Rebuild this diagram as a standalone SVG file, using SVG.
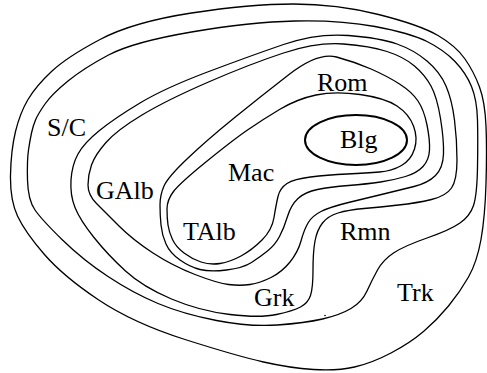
<svg xmlns="http://www.w3.org/2000/svg" width="487" height="373" viewBox="0 0 487 373">
<style>
.c{fill:none;stroke:#000;stroke-width:1.3}
.e{fill:none;stroke:#000;stroke-width:2}
text{font-family:"Liberation Serif","Times New Roman",serif;font-size:26px;fill:#000}
</style>
<rect width="487" height="373" fill="#fff"/>
<g id="connectors">
<path id="k1" class="c" d="M10.5,175 Q11,150 15.5,131.5 Q20,113 28,99.5 Q36,86 51.5,71.5 Q67,57 100,39.5 Q133,22 191.5,13 Q250,4 293.5,4 Q337,4 378.5,14.5 Q420,25 438,35.5 Q456,46 465,59 Q474,72 479.5,87 Q485,102 486,126 Q487,150 486,183.5 Q485,217 481,239.5 Q477,262 468.5,277 Q460,292 448.5,306 Q437,320 423.5,331.5 Q410,343 391,353 Q372,363 354.5,367 Q337,371 313.5,369.5 Q290,368 263.5,362 Q237,356 185,339.5 Q133,323 98,299.5 Q63,276 44,254 Q25,232 17.5,216 Q10,200 10.5,175 Z"/>
<path id="k2" class="c" d="M27.5,180 Q27,160 28.5,150 Q30,140 31.5,133 Q33,126 35.5,120 Q38,114 45,104 Q52,94 68,81 Q84,68 108.5,55 Q133,42 191.5,32 Q250,22 295,21 Q340,20 375,26.5 Q410,33 427,41.5 Q444,50 455,61.5 Q466,73 471.5,86.5 Q477,100 477.5,120 Q478,140 477.5,167.5 Q477,195 473.5,205.5 Q470,216 460,223 Q450,230 427,238 Q404,246 393.5,253 Q383,260 377.5,270 Q372,280 367,291 Q362,302 351,308.5 Q340,315 322.5,319 Q305,323 277.5,325 Q250,327 216.5,320.5 Q183,314 158,303.5 Q133,293 108,276.5 Q83,260 62.5,240 Q42,220 35,210 Q28,200 27.5,180 Z"/>
<path id="k3" class="c" d="M71,180 Q72,165 78,154 Q84,143 99.5,130.5 Q115,118 140,103 Q165,88 207.5,72 Q250,56 283.5,44.5 Q317,33 348.5,35.5 Q380,38 397,44 Q414,50 427,61 Q440,72 446,86 Q452,100 454.5,120 Q457,140 457,160 Q457,180 451.5,188 Q446,196 431.5,199.5 Q417,203 398.5,205 Q380,207 364,208.5 Q348,210 338,213 Q328,216 322.5,223 Q317,230 315,241 Q313,252 313,270 Q313,288 310.5,295.5 Q308,303 300.5,307 Q293,311 276.5,314.5 Q260,318 230,314.5 Q200,311 171.5,299 Q143,287 125.5,271 Q108,255 94,237.5 Q80,220 75,207.5 Q70,195 71,180 Z"/>
<path id="k4" class="c" d="M88,185 Q88,175 91.5,165 Q95,155 106,142.5 Q117,130 142,115 Q167,100 208.5,82 Q250,64 283.5,53 Q317,42 343.5,44 Q370,46 387,51.5 Q404,57 414.5,66 Q425,75 431,86 Q437,97 440.5,118.5 Q444,140 443.5,154 Q443,168 435.5,175.5 Q428,183 414,186.5 Q400,190 383.5,194 Q367,198 348.5,202.5 Q330,207 321,211.5 Q312,216 308,223 Q304,230 301,241 Q298,252 290,262 Q282,272 271,277.5 Q260,283 250,284.5 Q240,286 228.5,284.5 Q217,283 195,274.5 Q173,266 153,253 Q133,240 119,226 Q105,212 96.5,203.5 Q88,195 88,185 Z"/>
<path id="k5" class="c" d="M160,205 Q160,195 164,186 Q168,177 187.5,158.5 Q207,140 233.5,118.5 Q260,97 289,74.5 Q318,52 336.5,57 Q355,62 371,69 Q387,76 399.5,84 Q412,92 418,101 Q424,110 427,125 Q430,140 429.5,150 Q429,160 423,166.5 Q417,173 405.5,176.5 Q394,180 380.5,182 Q367,184 348.5,185.5 Q330,187 317.5,189.5 Q305,192 298,198.5 Q291,205 287.5,216.5 Q284,228 279.5,236.5 Q275,245 267.5,251 Q260,257 251.5,262.5 Q243,268 226.5,270 Q210,272 200,269.5 Q190,267 180,260 Q170,253 166,244 Q162,235 161,225 Q160,215 160,205 Z"/>
<path id="k6" class="c" d="M167,209 Q167,200 173.5,191.5 Q180,183 206.5,161.5 Q233,140 247.5,130 Q262,120 279.5,109.5 Q297,99 316,95 Q335,91 360,94.5 Q385,98 397,106 Q409,114 413.5,126 Q418,138 414.5,149 Q411,160 401.5,165.5 Q392,171 379.5,172 Q367,173 347,174 Q327,175 310.5,177 Q294,179 287,183.5 Q280,188 278,196.5 Q276,205 274,217.5 Q272,230 262,240 Q252,250 241,256 Q230,262 220,263.5 Q210,265 201,262 Q192,259 184,253 Q176,247 172.5,239.5 Q169,232 168,225 Q167,218 167,209 Z"/>
<circle cx="325" cy="315.5" r="0.8" fill="#000"/>
</g>
<g id="Blg"><ellipse class="e" cx="356" cy="140" rx="51" ry="25"/><text x="340" y="148">Blg</text></g>
<g id="Mac"><text x="228" y="181">Mac</text></g>
<g id="TAlb"><text x="183" y="240">TAlb</text></g>
<g id="Rom"><text x="317" y="91">Rom</text></g>
<g id="GAlb"><text x="96" y="199">GAlb</text></g>
<g id="Grk"><text x="254" y="306">Grk</text></g>
<g id="Rmn"><text x="340" y="240">Rmn</text></g>
<g id="SC"><text x="47" y="136">S/C</text></g>
<g id="Trk"><text x="397" y="301">Trk</text></g>
</svg>
